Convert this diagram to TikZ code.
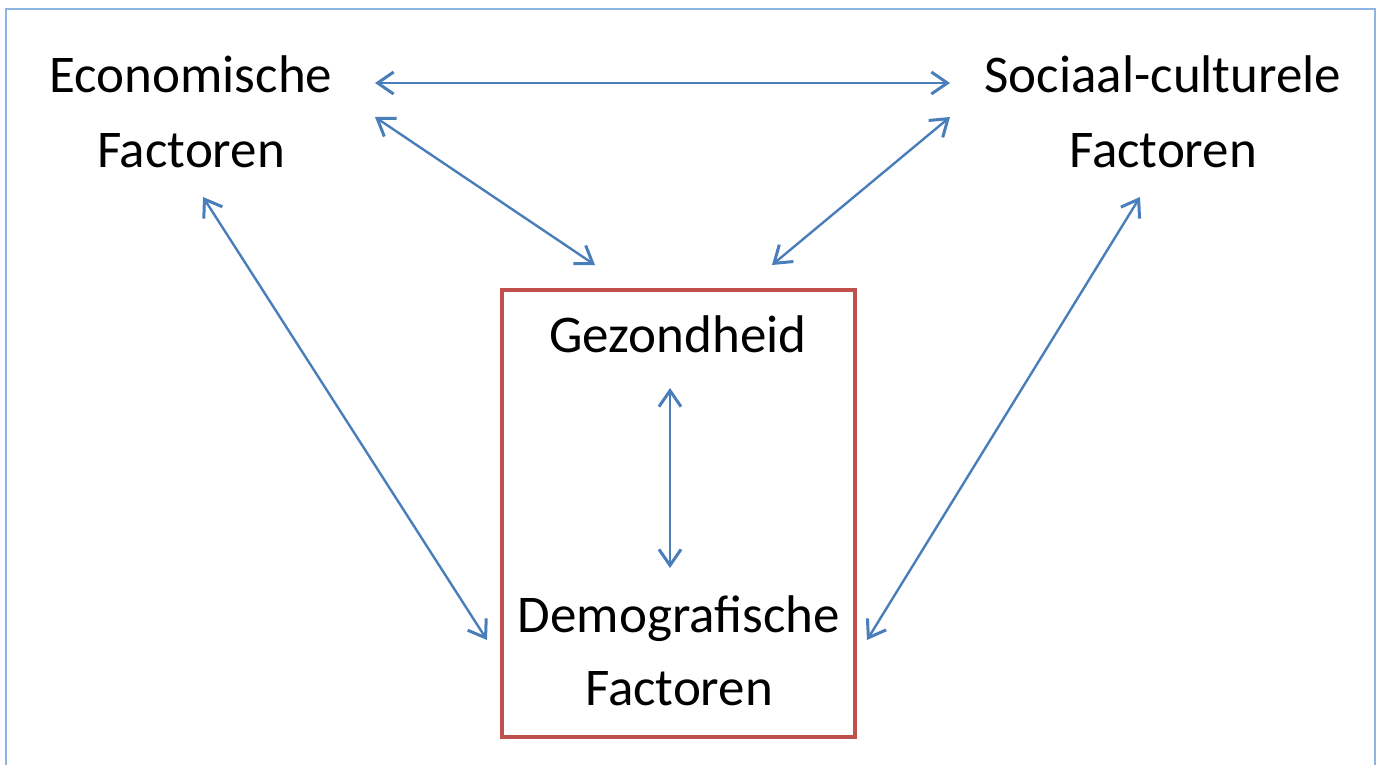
\documentclass[tikz,border=0pt]{standalone}
\usepackage{fontspec}
\setmainfont{Carlito}
\usetikzlibrary{arrows.meta}
\definecolor{arrowblue}{HTML}{4A7EBB}
\definecolor{frameblue}{HTML}{8EB4E3}
\definecolor{boxred}{HTML}{C0504D}
\tikzset{
  lbl/.style={anchor=base, inner sep=0pt, font=\fontsize{53}{60}\selectfont},
  link/.style={draw=arrowblue, line width=2.4pt, {Straight Barb[length=16pt,width=22pt,line width=3pt]}-{Straight Barb[length=16pt,width=22pt,line width=3pt]}},
}
\begin{document}
\begin{tikzpicture}[x=1pt,y=-1pt]
\useasboundingbox (0,0) rectangle (1381,764);
\draw[frameblue, line width=1.5pt] (6,770) -- (6,9) -- (1375,9) -- (1375,770);
\draw[boxred, line width=4.5pt] (502,290) rectangle (855,737);
\node[lbl] (eco1) at (191,92) {Economische};
\node[lbl] (eco2) at (191,167) {Factoren};
\node[lbl] (soc1) at (1163,92) {Sociaal-culturele};
\node[lbl] (soc2) at (1163,167) {Factoren};
\node[lbl] (gez) at (678,352) {Gezondheid};
\node[lbl] (dem1) at (679,632) {Demografische};
\node[lbl] (dem2) at (679,705) {Factoren};
\coordinate (a1) at (375,83);
\coordinate (a2) at (950,83);
\coordinate (b1) at (375,117);
\coordinate (b2) at (595,265);
\coordinate (c1) at (950,117);
\coordinate (c2) at (772,265);
\coordinate (d1) at (203,197);
\coordinate (d2) at (487,640);
\coordinate (e1) at (1140,197);
\coordinate (e2) at (867,640);
\coordinate (f1) at (670,388);
\coordinate (f2) at (670,568);
\draw[link] (a1) -- (a2);
\draw[link] (b1) -- (b2);
\draw[link] (c1) -- (c2);
\draw[link] (d1) -- (d2);
\draw[link] (e1) -- (e2);
\draw[link] (f1) -- (f2);
\end{tikzpicture}
\end{document}
